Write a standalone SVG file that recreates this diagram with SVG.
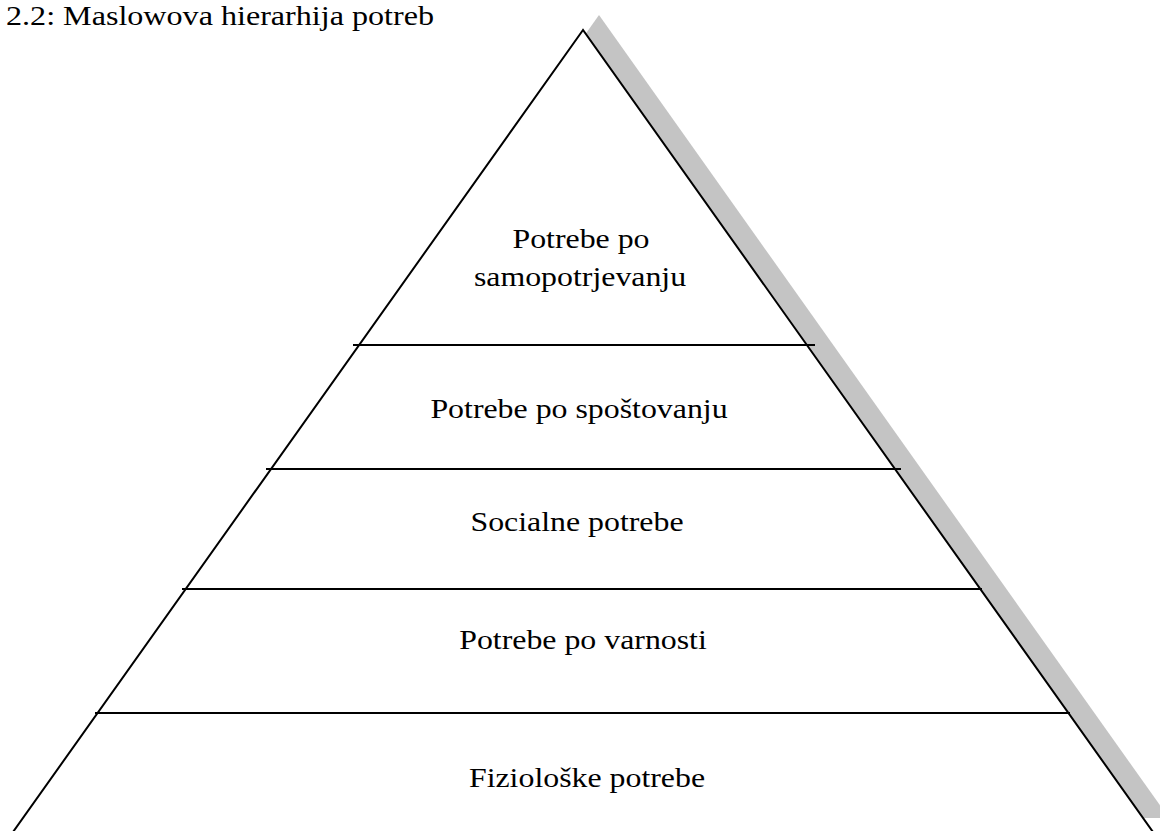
<svg xmlns="http://www.w3.org/2000/svg" width="1160" height="831" viewBox="0 0 1160 831">
  <style>
    .t { font-family: "Liberation Serif", "Times New Roman", serif; font-size: 27px; fill: #000; }
    .c { text-anchor: middle; }
    .ln { stroke: #000; stroke-width: 2; fill: none; }
  </style>
  <rect width="1160" height="831" fill="#fff"/>
  <g id="title">
    <text class="t" transform="translate(6 25) scale(1.19 1)">2.2: Maslowova hierarhija potreb</text>
  </g>
  <g id="pyramid">
    <polygon id="shadow" points="599,15 29,818 1169,818" fill="#c4c4c4"/>
    <polygon id="outline" points="583,30 13,832 1153,832" fill="#fff" stroke="#000" stroke-width="2" stroke-linejoin="miter"/>
  </g>
  <g id="dividers">
    <line class="ln" x1="353" y1="345" x2="815" y2="345"/>
    <line class="ln" x1="266" y1="469" x2="901" y2="469"/>
    <line class="ln" x1="182" y1="589" x2="982" y2="589"/>
    <line class="ln" x1="95" y1="713" x2="1070" y2="713"/>
  </g>
  <g id="level-self-actualization">
    <text class="t c" transform="translate(581 248) scale(1.18 1)">Potrebe po</text>
    <text class="t c" transform="translate(580 286) scale(1.18 1)">samopotrjevanju</text>
  </g>
  <g id="level-esteem">
    <text class="t c" transform="translate(579 418) scale(1.18 1)">Potrebe po spoštovanju</text>
  </g>
  <g id="level-social">
    <text class="t c" transform="translate(577 531) scale(1.18 1)">Socialne potrebe</text>
  </g>
  <g id="level-safety">
    <text class="t c" transform="translate(583 649) scale(1.18 1)">Potrebe po varnosti</text>
  </g>
  <g id="level-physiological">
    <text class="t c" transform="translate(587 787) scale(1.18 1)">Fiziološke potrebe</text>
  </g>
</svg>
